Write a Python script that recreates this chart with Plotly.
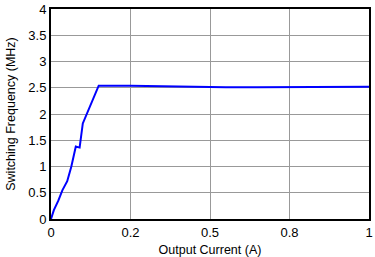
import plotly.graph_objects as go

current = [0.0, 0.003, 0.009, 0.023, 0.036, 0.051, 0.064, 0.078, 0.086, 0.090, 0.100, 0.150,
           0.25, 0.35, 0.45, 0.55, 0.65, 0.75, 0.85, 1.0]
freq = [0.0, 0.05, 0.17, 0.35, 0.55, 0.72, 1.00, 1.38, 1.37, 1.36, 1.82, 2.54,
        2.54, 2.53, 2.51, 2.51, 2.51, 2.51, 2.52, 2.52]

x_tickvals = [0, 0.25, 0.5, 0.75, 1]
x_ticktext = ["0", "0.2", "0.5", "0.8", "1"]
y_tickvals = [0, 0.5, 1, 1.5, 2, 2.5, 3, 3.5, 4]
y_ticktext = ["0", "0.5", "1", "1.5", "2", "2.5", "3", "3.5", "4"]

fig = go.Figure()
fig.add_trace(go.Scatter(x=current, y=freq, mode="lines",
                         line=dict(color="#0000FF", width=2), showlegend=False))

font = "Liberation Sans, Arial, sans-serif"
fig.update_layout(
    width=375, height=257,
    margin=dict(l=51, r=2, t=5, b=35),
    paper_bgcolor="white", plot_bgcolor="white",
    font=dict(family=font, color="black", size=13),
)
fig.update_xaxes(
    range=[0, 1], tickvals=x_tickvals, ticktext=x_ticktext,
    showgrid=True, gridcolor="#999999", gridwidth=1,
    showline=True, linecolor="black", linewidth=2, mirror=True,
    ticks="", ticklen=0, tickfont=dict(size=13), ticklabeloverflow="allow",
    title=dict(text="Output Current (A)", font=dict(size=12.5), standoff=7),
    zeroline=False,
)
fig.update_yaxes(
    range=[0, 4], tickvals=y_tickvals, ticktext=y_ticktext,
    showgrid=True, gridcolor="#999999", gridwidth=1,
    showline=True, linecolor="black", linewidth=2, mirror=True,
    ticks="", ticklen=0, tickfont=dict(size=13), ticklabeloverflow="allow",
    title=dict(text="Switching Frequency (MHz)", font=dict(size=12.5), standoff=10),
    zeroline=False,
)
fig.write_html("out.html")
